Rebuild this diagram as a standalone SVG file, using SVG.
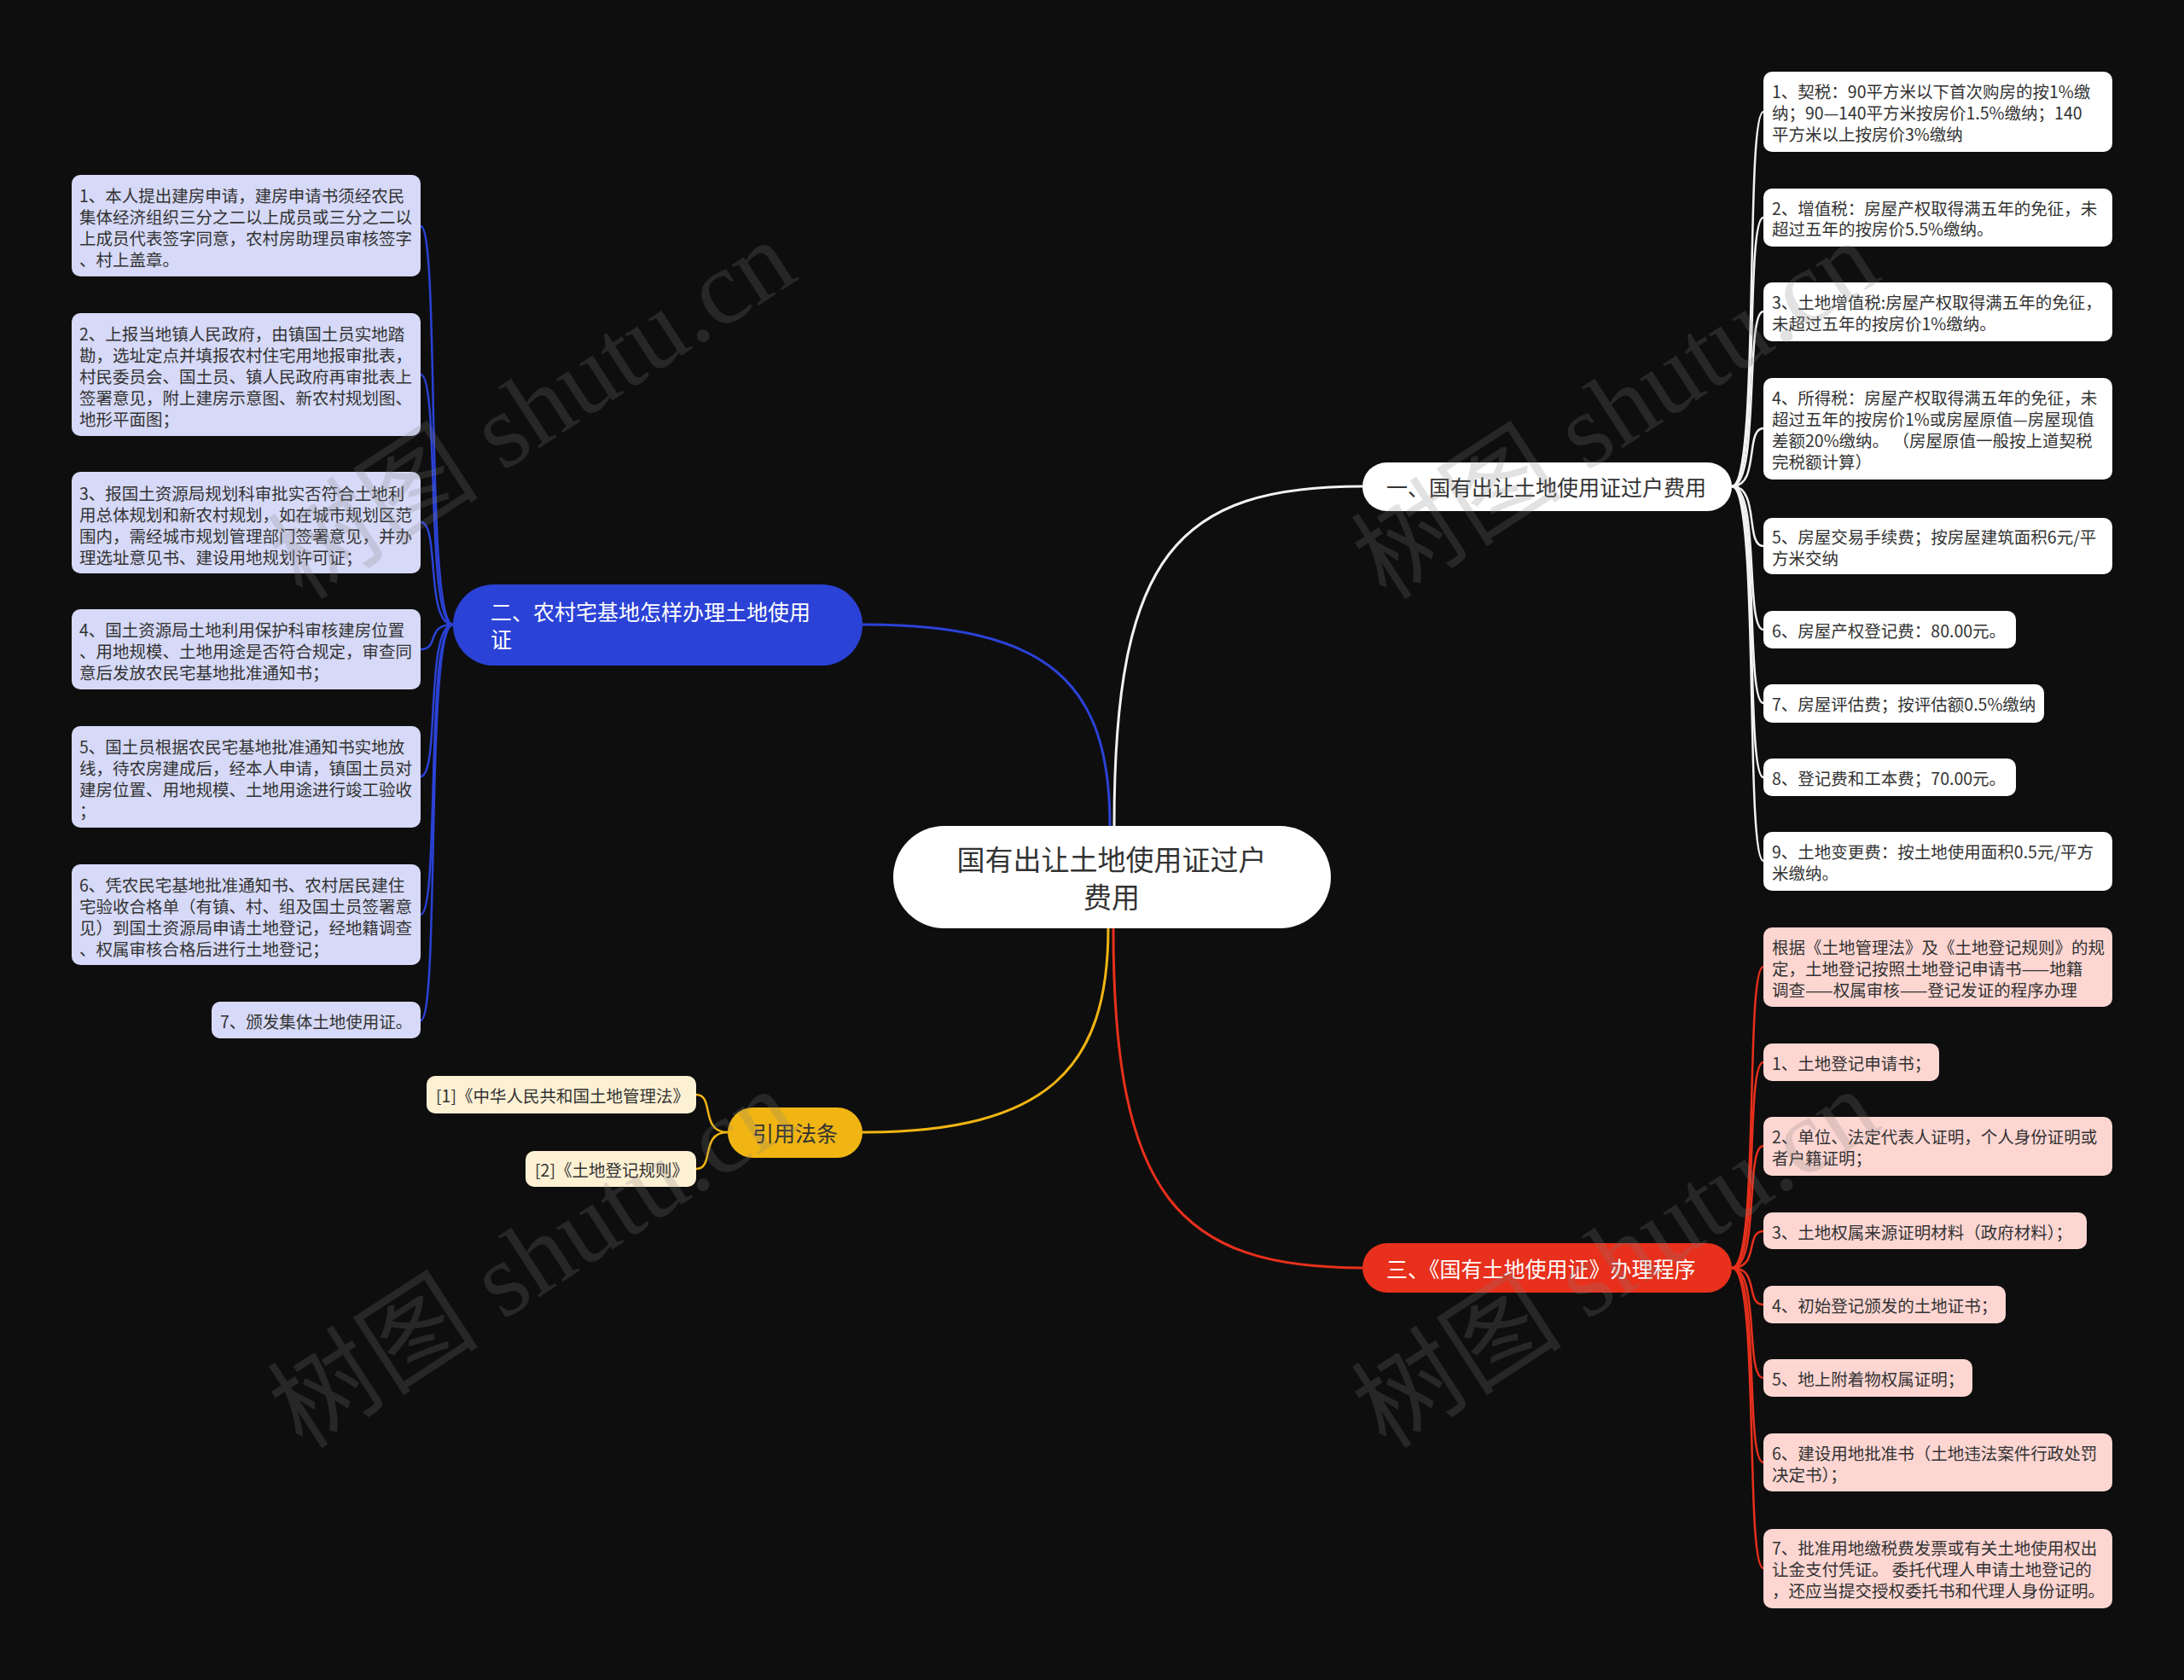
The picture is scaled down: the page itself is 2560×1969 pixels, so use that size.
<svg xmlns="http://www.w3.org/2000/svg" width="2560" height="1969" viewBox="0 0 2560 1969">
<style>
text{font-family:"Noto Sans CJK SC","Noto Sans",sans-serif;dominant-baseline:central}
.c{font-size:19.5px;fill:#333}
.b{font-size:25px}
.lb{fill:#d6d9f7}
.lw{fill:#ffffff}
.lr{fill:#fdd6d2}
.ly{fill:#fdf1d4}
.cb{fill:none;stroke:#2b42d6;stroke-width:2.5}
.cw{fill:none;stroke:#f2f2f2;stroke-width:2.5}
.cr{fill:none;stroke:#e8301c;stroke-width:2.5}
.cy{fill:none;stroke:#f0b513;stroke-width:2.5}
.m{stroke-width:3}
.wm{font-family:"Liberation Serif","Noto Sans CJK SC",serif;font-size:124px;fill:#808080;opacity:0.22;dominant-baseline:auto}
</style>
<rect width="2560" height="1969" fill="#0e0e0e"/>
<g id="connectors">
<path class="cw m" d="M1306 968 C1306 650 1380 570 1597 570"/>
<path class="cb m" d="M1301 968 C1301 800 1230 732 1011 732"/>
<path class="cy m" d="M1299 1088 C1299 1250 1230 1327 1011 1327"/>
<path class="cr m" d="M1305 1088 C1305 1400 1380 1486 1597 1486"/>
<path class="cb" d="M531 732 C498 732 516 265 493 265"/>
<path class="cb" d="M531 732 C498 732 516 439 493 439"/>
<path class="cb" d="M531 732 C498 732 516 612 493 612"/>
<path class="cb" d="M531 732 C498 732 516 761 493 761"/>
<path class="cb" d="M531 732 C498 732 516 910 493 910"/>
<path class="cb" d="M531 732 C498 732 516 1072 493 1072"/>
<path class="cb" d="M531 732 C498 732 516 1196 493 1196"/>
<path class="cw" d="M2030 570 C2063 570 2045 131 2067 131"/>
<path class="cw" d="M2030 570 C2063 570 2045 255 2067 255"/>
<path class="cw" d="M2030 570 C2063 570 2045 365 2067 365"/>
<path class="cw" d="M2030 570 C2063 570 2045 502 2067 502"/>
<path class="cw" d="M2030 570 C2063 570 2045 640 2067 640"/>
<path class="cw" d="M2030 570 C2063 570 2045 738 2067 738"/>
<path class="cw" d="M2030 570 C2063 570 2045 824 2067 824"/>
<path class="cw" d="M2030 570 C2063 570 2045 911 2067 911"/>
<path class="cw" d="M2030 570 C2063 570 2045 1009 2067 1009"/>
<path class="cr" d="M2030 1486 C2063 1486 2045 1133 2067 1133"/>
<path class="cr" d="M2030 1486 C2063 1486 2045 1245 2067 1245"/>
<path class="cr" d="M2030 1486 C2063 1486 2045 1343 2067 1343"/>
<path class="cr" d="M2030 1486 C2063 1486 2045 1443 2067 1443"/>
<path class="cr" d="M2030 1486 C2063 1486 2045 1529 2067 1529"/>
<path class="cr" d="M2030 1486 C2063 1486 2045 1615 2067 1615"/>
<path class="cr" d="M2030 1486 C2063 1486 2045 1714 2067 1714"/>
<path class="cr" d="M2030 1486 C2063 1486 2045 1838 2067 1838"/>
<path class="cy" d="M853 1327 C820 1327 838 1283 816 1283"/>
<path class="cy" d="M853 1327 C820 1327 838 1370 816 1370"/>
</g>
<g id="center">
<rect x="1047" y="968" width="513" height="120" rx="60" fill="#ffffff"/>
<text x="1303" y="1006" text-anchor="middle" style="font-size:33px;fill:#333">国有出让土地使用证过户</text>
<text x="1303" y="1050" text-anchor="middle" style="font-size:33px;fill:#333">费用</text>
</g>
<g id="branch-1">
<rect x="1597" y="542" width="433" height="57" rx="28.5" fill="#ffffff"/>
<text class="b" x="1625" y="570" fill="#333">一、国有出让土地使用证过户费用</text>
</g>
<g id="branch-2">
<rect x="531" y="685" width="480" height="95" rx="47.5" fill="#2b42d6"/>
<text class="b" x="575" y="716" fill="#ffffff">二、农村宅基地怎样办理土地使用</text>
<text class="b" x="575" y="748" fill="#ffffff">证</text>
</g>
<g id="branch-3">
<rect x="1597" y="1457" width="433" height="58" rx="29" fill="#e8301c"/>
<text class="b" x="1625" y="1486" fill="#ffffff">三、《国有土地使用证》办理程序</text>
</g>
<g id="branch-4">
<rect x="853" y="1298" width="158" height="59" rx="29.5" fill="#f0b513"/>
<text class="b" x="932" y="1327" text-anchor="middle" fill="#333">引用法条</text>
</g>
<g id="l1"><rect class="lb" x="84" y="205" width="409" height="119" rx="10"/>
<text class="c" x="93" y="228">1、本人提出建房申请，建房申请书须经农民</text>
<text class="c" x="93" y="253">集体经济组织三分之二以上成员或三分之二以</text>
<text class="c" x="93" y="278">上成员代表签字同意，农村房助理员审核签字</text>
<text class="c" x="93" y="303">、村上盖章。</text></g>
<g id="l2"><rect class="lb" x="84" y="367" width="409" height="144" rx="10"/>
<text class="c" x="93" y="390">2、上报当地镇人民政府，由镇国土员实地踏</text>
<text class="c" x="93" y="415">勘，选址定点并填报农村住宅用地报审批表，</text>
<text class="c" x="93" y="440">村民委员会、国土员、镇人民政府再审批表上</text>
<text class="c" x="93" y="465">签署意见，附上建房示意图、新农村规划图、</text>
<text class="c" x="93" y="490">地形平面图；</text></g>
<g id="l3"><rect class="lb" x="84" y="553" width="409" height="119" rx="10"/>
<text class="c" x="93" y="577">3、报国土资源局规划科审批实否符合土地利</text>
<text class="c" x="93" y="602">用总体规划和新农村规划，如在城市规划区范</text>
<text class="c" x="93" y="627">围内，需经城市规划管理部门签署意见，并办</text>
<text class="c" x="93" y="652">理选址意见书、建设用地规划许可证；</text></g>
<g id="l4"><rect class="lb" x="84" y="714" width="409" height="94" rx="10"/>
<text class="c" x="93" y="737">4、国土资源局土地利用保护科审核建房位置</text>
<text class="c" x="93" y="762">、用地规模、土地用途是否符合规定，审查同</text>
<text class="c" x="93" y="787">意后发放农民宅基地批准通知书；</text></g>
<g id="l5"><rect class="lb" x="84" y="851" width="409" height="119" rx="10"/>
<text class="c" x="93" y="874">5、国土员根据农民宅基地批准通知书实地放</text>
<text class="c" x="93" y="899">线，待农房建成后，经本人申请，镇国土员对</text>
<text class="c" x="93" y="924">建房位置、用地规模、土地用途进行竣工验收</text>
<text class="c" x="93" y="949">；</text></g>
<g id="l6"><rect class="lb" x="84" y="1013" width="409" height="118" rx="10"/>
<text class="c" x="93" y="1036">6、凭农民宅基地批准通知书、农村居民建住</text>
<text class="c" x="93" y="1061">宅验收合格单（有镇、村、组及国土员签署意</text>
<text class="c" x="93" y="1086">见）到国土资源局申请土地登记，经地籍调查</text>
<text class="c" x="93" y="1111">、权属审核合格后进行土地登记；</text></g>
<g id="l7"><rect class="lb" x="248" y="1174" width="245" height="43" rx="10"/>
<text class="c" x="258" y="1196">7、颁发集体土地使用证。</text></g>
<g id="r1"><rect class="lw" x="2067" y="84" width="409" height="94" rx="10"/>
<text class="c" x="2077" y="106">1、契税：90平方米以下首次购房的按1%缴</text>
<text class="c" x="2077" y="131">纳；90—140平方米按房价1.5%缴纳；140</text>
<text class="c" x="2077" y="156">平方米以上按房价3%缴纳</text></g>
<g id="r2"><rect class="lw" x="2067" y="221" width="409" height="68" rx="10"/>
<text class="c" x="2077" y="243">2、增值税：房屋产权取得满五年的免征，未</text>
<text class="c" x="2077" y="267">超过五年的按房价5.5%缴纳。</text></g>
<g id="r3"><rect class="lw" x="2067" y="331" width="409" height="69" rx="10"/>
<text class="c" x="2077" y="353">3、土地增值税:房屋产权取得满五年的免征，</text>
<text class="c" x="2077" y="378">未超过五年的按房价1%缴纳。</text></g>
<g id="r4"><rect class="lw" x="2067" y="443" width="409" height="119" rx="10"/>
<text class="c" x="2077" y="465">4、所得税：房屋产权取得满五年的免征，未</text>
<text class="c" x="2077" y="490">超过五年的按房价1%或房屋原值—房屋现值</text>
<text class="c" x="2077" y="515">差额20%缴纳。 （房屋原值一般按上道契税</text>
<text class="c" x="2077" y="540">完税额计算）</text></g>
<g id="r5"><rect class="lw" x="2067" y="607" width="409" height="66" rx="10"/>
<text class="c" x="2077" y="628">5、房屋交易手续费；按房屋建筑面积6元/平</text>
<text class="c" x="2077" y="653">方米交纳</text></g>
<g id="r6"><rect class="lw" x="2067" y="716" width="296" height="44" rx="10"/>
<text class="c" x="2077" y="738">6、房屋产权登记费：80.00元。</text></g>
<g id="r7"><rect class="lw" x="2067" y="802" width="329" height="45" rx="10"/>
<text class="c" x="2077" y="824">7、房屋评估费；按评估额0.5%缴纳</text></g>
<g id="r8"><rect class="lw" x="2067" y="889" width="296" height="44" rx="10"/>
<text class="c" x="2077" y="911">8、登记费和工本费；70.00元。</text></g>
<g id="r9"><rect class="lw" x="2067" y="975" width="409" height="69" rx="10"/>
<text class="c" x="2077" y="997">9、土地变更费：按土地使用面积0.5元/平方</text>
<text class="c" x="2077" y="1022">米缴纳。</text></g>
<g id="p0"><rect class="lr" x="2067" y="1087" width="409" height="93" rx="10"/>
<text class="c" x="2077" y="1109">根据《土地管理法》及《土地登记规则》的规</text>
<text class="c" x="2077" y="1134">定，土地登记按照土地登记申请书——地籍</text>
<text class="c" x="2077" y="1159">调查——权属审核——登记发证的程序办理</text></g>
<g id="p1"><rect class="lr" x="2067" y="1223" width="206" height="44" rx="10"/>
<text class="c" x="2077" y="1245">1、土地登记申请书；</text></g>
<g id="p2"><rect class="lr" x="2067" y="1309" width="409" height="69" rx="10"/>
<text class="c" x="2077" y="1331">2、单位、法定代表人证明，个人身份证明或</text>
<text class="c" x="2077" y="1356">者户籍证明；</text></g>
<g id="p3"><rect class="lr" x="2067" y="1421" width="379" height="43" rx="10"/>
<text class="c" x="2077" y="1443">3、土地权属来源证明材料（政府材料）；</text></g>
<g id="p4"><rect class="lr" x="2067" y="1507" width="284" height="44" rx="10"/>
<text class="c" x="2077" y="1529">4、初始登记颁发的土地证书；</text></g>
<g id="p5"><rect class="lr" x="2067" y="1593" width="245" height="44" rx="10"/>
<text class="c" x="2077" y="1615">5、地上附着物权属证明；</text></g>
<g id="p6"><rect class="lr" x="2067" y="1680" width="409" height="68" rx="10"/>
<text class="c" x="2077" y="1702">6、建设用地批准书（土地违法案件行政处罚</text>
<text class="c" x="2077" y="1727">决定书）；</text></g>
<g id="p7"><rect class="lr" x="2067" y="1792" width="409" height="93" rx="10"/>
<text class="c" x="2077" y="1813">7、批准用地缴税费发票或有关土地使用权出</text>
<text class="c" x="2077" y="1838">让金支付凭证。 委托代理人申请土地登记的</text>
<text class="c" x="2077" y="1863">，还应当提交授权委托书和代理人身份证明。</text></g>
<g id="y1"><rect class="ly" x="500" y="1261" width="316" height="44" rx="10"/>
<text class="c" x="511" y="1283">[1]《中华人民共和国土地管理法》</text></g>
<g id="y2"><rect class="ly" x="616" y="1349" width="200" height="42" rx="10"/>
<text class="c" x="627" y="1370">[2]《土地登记规则》</text></g>
<g id="watermarks">
<text class="wm" transform="translate(355 705) rotate(-33)">树图 shutu.cn</text>
<text class="wm" transform="translate(355 1700) rotate(-33)">树图 shutu.cn</text>
<text class="wm" transform="translate(1625 705) rotate(-33)">树图 shutu.cn</text>
<text class="wm" transform="translate(1625 1700) rotate(-33)">树图 shutu.cn</text>
</g>
</svg>
